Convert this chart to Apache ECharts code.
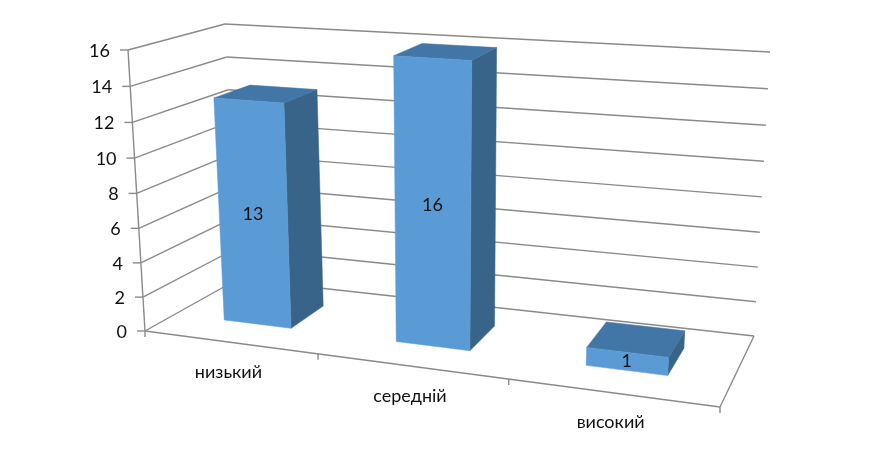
<!DOCTYPE html>
<html><head><meta charset="utf-8">
<style>html,body{margin:0;padding:0;background:#fff}#c{width:870px;height:470px}</style>
<script src="https://cdn.jsdelivr.net/npm/echarts@6/dist/echarts.min.js"></script>
</head><body><div id="c"></div>
<script>
const categories = ['низький', 'середній', 'високий'];
const values = [13, 16, 1];
const yTicks = [0, 2, 4, 6, 8, 10, 12, 14, 16];

// perspective frame: corners of the plot box as seen in the picture
const frame = {
  frontBL: [145, 331], frontBR: [720, 407], frontTL: [128, 50], frontTR: [738, 90],
  backBL: [238, 279], backBR: [754, 336], backTL: [225, 24], backTR: [770, 52]
};
const warpX = 0.861, warpY = 0.96, warpZ = 1.15, barShare = 0.4, depthNear = 0.3, depthFar = 0.7;
const FONT = 'Lato, "Noto Sans", sans-serif';
const LINE = '#8a8a8a';

const warp = (t, a) => a * t / (1 + (a - 1) * t);
const lerp = (a, b, k) => [a[0] + (b[0] - a[0]) * k, a[1] + (b[1] - a[1]) * k];
function project(sys, pt, depth) {
  const u = warp((pt[0] - sys.x) / sys.width, warpX);
  const f = warp(1 - (pt[1] - sys.y) / sys.height, warpY);
  const w = warp(depth, warpZ);
  const fr = lerp(lerp(frame.frontBL, frame.frontBR, u), lerp(frame.frontTL, frame.frontTR, u), f);
  const bk = lerp(lerp(frame.backBL, frame.backBR, u), lerp(frame.backTL, frame.backTR, u), f);
  return lerp(fr, bk, w);
}
const lineEl = (a, b) => ({ type: 'line', silent: true,
  shape: { x1: a[0], y1: a[1], x2: b[0], y2: b[1] },
  style: { stroke: LINE, lineWidth: 1.4, fill: null } });
const poly = (pts, fill) => ({ type: 'polygon', silent: true, shape: { points: pts },
  style: { fill, stroke: fill, lineWidth: 0.5 } });
const label = (x, y, text, align) => ({ type: 'text', silent: true,
  style: { x, y, text, align, verticalAlign: 'middle', font: '18px ' + FONT, fill: '#111111' } });

function renderGrid(params, api) {
  const sys = params.coordSys;
  const v = api.value(1);
  const yPx = api.coord([0, v])[1];
  const xL = sys.x, xR = sys.x + sys.width;
  const front = project(sys, [xL, yPx], 0);
  const corner = project(sys, [xL, yPx], 1);
  const right = project(sys, [xR, yPx], 1);
  const ch = [lineEl(front, corner), lineEl(corner, right),
    lineEl([front[0] - 8, front[1]], front),
    label(front[0] - 18, front[1] + 1, String(v), 'right')];
  if (v === yTicks[0]) {
    const nearRight = project(sys, [xR, yPx], 0);
    ch.push(lineEl(front, nearRight), lineEl(nearRight, right),
      lineEl(front, project(sys, [xL, api.coord([0, yTicks[yTicks.length - 1]])[1]], 0)),
      lineEl(nearRight, [nearRight[0], nearRight[1] + 6]),
      lineEl(front, [front[0], front[1] + 6]));
  }
  return { type: 'group', children: ch };
}
function renderCategory(params, api) {
  const sys = params.coordSys;
  const i = api.value(0);
  const c = api.coord([i, 0]);
  const band = api.size([1, 0])[0];
  const base = project(sys, c, 0);
  const edge = project(sys, [c[0] + band / 2, c[1]], 0);
  const ch = [label(base[0] - 1, base[1] + 30, categories[i], 'center')];
  if (i < categories.length - 1) ch.push(lineEl(edge, [edge[0], edge[1] + 6]));
  return { type: 'group', children: ch };
}
function renderBar(params, api) {
  const sys = params.coordSys;
  const i = api.value(0), v = api.value(1);
  const c0 = api.coord([i, 0]), c1 = api.coord([i, v]);
  const half = api.size([1, 0])[0] * barShare / 2;
  const p = (x, y, d) => project(sys, [x, y], d);
  const l = c0[0] - half, r = c0[0] + half, y0 = c0[1], y1 = c1[1];
  const n = depthNear, b = depthFar;
  const mid = p(c0[0], (y0 + y1) / 2, n);
  return { type: 'group', children: [
    poly([p(r, y0, n), p(r, y0, b), p(r, y1, b), p(r, y1, n)], '#39648a'),
    poly([p(l, y1, n), p(r, y1, n), p(r, y1, b), p(l, y1, b)], '#4276a6'),
    poly([p(l, y0, n), p(r, y0, n), p(r, y1, n), p(l, y1, n)], '#5b9bd5'),
    label(mid[0], mid[1], String(v), 'center')
  ] };
}
const chart = echarts.init(document.getElementById('c'));
chart.setOption({
  animation: false,
  backgroundColor: '#ffffff',
  grid: { left: 0, top: 0, right: 0, bottom: 0 },
  xAxis: { type: 'category', data: categories, show: false },
  yAxis: { type: 'value', min: 0, max: 16, interval: 2, show: false },
  series: [
    { type: 'custom', name: 'grid', z: 1, silent: true, clip: false, renderItem: renderGrid,
      data: yTicks.map(v => [0, v]), encode: { x: 0, y: 1 } },
    { type: 'custom', name: 'categories', z: 2, silent: true, clip: false, renderItem: renderCategory,
      data: categories.map((_, i) => [i, 0]), encode: { x: 0, y: 1 } },
    { type: 'custom', name: 'bars', z: 3, silent: true, clip: false, renderItem: renderBar,
      data: values.map((v, i) => [i, v]), encode: { x: 0, y: 1 } }
  ]
});
</script></body></html>
